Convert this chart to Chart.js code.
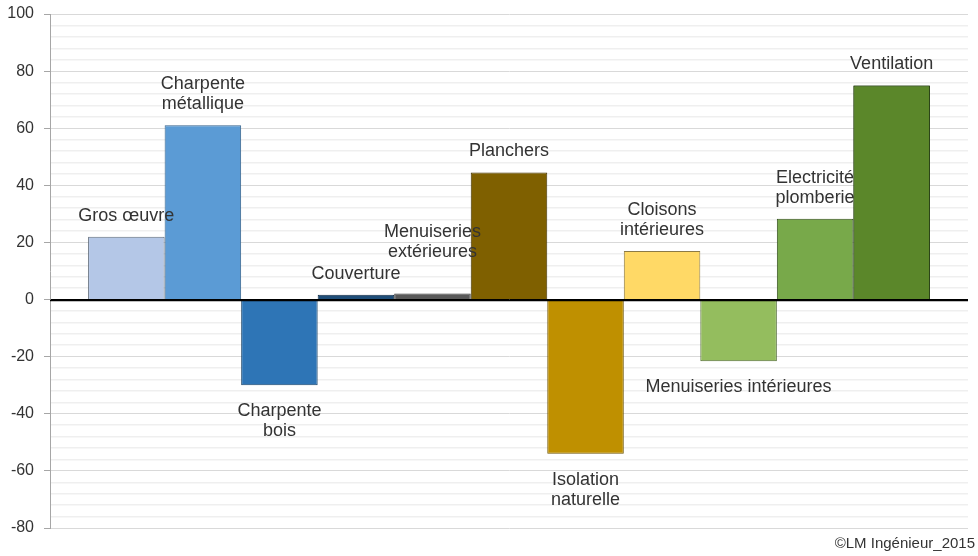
<!DOCTYPE html>
<html lang="fr">
<head>
<meta charset="utf-8">
<title>Écarts par lot</title>
<script src="https://cdn.jsdelivr.net/npm/chart.js@4/dist/chart.umd.min.js"></script>
<style>
  html, body { margin: 0; padding: 0; background: #ffffff; }
  #wrap { position: relative; width: 978px; height: 556px; }
</style>
</head>
<body>
<div id="wrap"><canvas id="chart"></canvas></div>
<script>
// Lots de travaux (une série par lot) et leur valeur
const categories = [
  'Gros œuvre', 'Charpente métallique', 'Charpente bois', 'Couverture',
  'Menuiseries extérieures', 'Planchers', 'Isolation naturelle',
  'Cloisons intérieures', 'Menuiseries intérieures', 'Electricité plomberie', 'Ventilation'
];
const values = [22, 61, -30, 1.7, 2.1, 44.5, -54, 17, -21.6, 28.3, 75];

// Libellés affichés près des barres, ligne par ligne
const labelLines = [
  ['Gros œuvre'], ['Charpente', 'métallique'], ['Charpente', 'bois'], ['Couverture'],
  ['Menuiseries', 'extérieures'], ['Planchers'], ['Isolation', 'naturelle'],
  ['Cloisons', 'intérieures'], ['Menuiseries intérieures'], ['Electricité', 'plomberie'], ['Ventilation']
];

// Graduations de l'axe vertical
const yMin = -80;
const yMax = 100;
const minorStep = 4;
const majorStep = 20;

// Couleurs de remplissage et de contour des barres
const fills = ['#b4c7e7', '#5b9bd5', '#2e75b6', '#1f4e79', '#595959', '#7f6000',
               '#bf9000', '#ffd966', '#94bd5e', '#78a94a', '#5b872a'];
const borders = ['#5f6b7a', '#35628c', '#1a4469', '#102a44', '#383838', '#443300',
                 '#6f5400', '#8c7a45', '#506a30', '#34501e', '#263f10'];

// Décalage vertical supplémentaire d'un libellé (px)
const labelLift = [0, 0, 0, 0, 21, 0, 0, 0, 0, 0, 0];

const FONT = "'Liberation Sans', Arial, sans-serif";

const barLabels = {
  id: 'barLabels',
  afterDatasetsDraw(chart) {
    const ctx = chart.ctx;
    ctx.save();
    ctx.font = '18px ' + FONT;
    ctx.fillStyle = '#333333';
    ctx.textAlign = 'center';
    ctx.textBaseline = 'middle';
    const lineH = 20;
    chart.data.datasets.forEach((ds, i) => {
      const el = chart.getDatasetMeta(i).data[0];
      const lines = labelLines[i];
      const top = Math.min(el.y, el.base);
      const bottom = Math.max(el.y, el.base);
      lines.forEach((t, k) => {
        let y;
        if (ds.data[0] >= 0) {
          y = top - 21 - labelLift[i] - (lines.length - 1 - k) * lineH;
        } else {
          y = bottom + 26 + k * lineH;
        }
        ctx.fillText(t, el.x, y);
      });
    });
    ctx.restore();

    // la dernière barre passe devant le libellé voisin
    const last = chart.getDatasetMeta(chart.data.datasets.length - 1).data[0];
    last.draw(ctx);

    // ligne du zéro
    const ys = chart.scales.y;
    const y0 = Math.round(ys.getPixelForValue(0)) + 0.5;
    ctx.save();
    ctx.strokeStyle = '#000000';
    ctx.lineWidth = 1.5;
    ctx.beginPath();
    ctx.moveTo(chart.chartArea.left, y0);
    ctx.lineTo(chart.chartArea.right, y0);
    ctx.stroke();
    ctx.restore();
  },
  afterDraw(chart) {
    const ctx = chart.ctx;
    ctx.save();
    ctx.font = '15px ' + FONT;
    ctx.fillStyle = '#333333';
    ctx.textAlign = 'right';
    ctx.textBaseline = 'alphabetic';
    ctx.fillText('©LM Ingénieur_2015', 975, 548);
    ctx.restore();
  }
};

const datasets = categories.map((name, i) => ({
  label: name,
  data: [values[i]],
  backgroundColor: fills[i],
  borderColor: borders[i],
  borderWidth: 1
}));

new Chart(document.getElementById('chart'), {
  type: 'bar',
  data: { labels: [''], datasets },
  plugins: [barLabels],
  options: {
    responsive: true,
    maintainAspectRatio: false,
    animation: false,
    layout: { padding: { top: 14, right: 10, bottom: 28, left: 0 } },
    plugins: { legend: { display: false }, tooltip: { enabled: false } },
    datasets: { bar: { categoryPercentage: 0.917, barPercentage: 1 } },
    scales: {
      x: { display: false },
      y: {
        min: yMin,
        max: yMax,
        afterFit(scale) {
          scale.width = 50;
          scale.paddingTop = 0;
          scale.paddingBottom = 0;
        },
        border: { display: true, color: '#a6a6a6', width: 1 },
        grid: {
          color: (c) => {
            const v = c.tick ? c.tick.value : 0;
            if (v === 0) return '#000000';
            return v % majorStep === 0 ? '#d9d9d9' : '#efefef';
          },
          lineWidth: (c) => {
            const v = c.tick ? c.tick.value : 0;
            return v % majorStep === 0 ? 1 : 1.5;
          },
          tickLength: 6,
          tickColor: (c) => {
            const v = c.tick ? c.tick.value : 0;
            return v % majorStep === 0 ? '#a6a6a6' : 'rgba(0,0,0,0)';
          }
        },
        ticks: {
          stepSize: minorStep,
          autoSkip: false,
          padding: 10,
          color: '#333333',
          font: { family: FONT, size: 16 },
          callback: (v) => (v % majorStep === 0 ? String(v) : '')
        }
      }
    }
  }
});
</script>
</body>
</html>
